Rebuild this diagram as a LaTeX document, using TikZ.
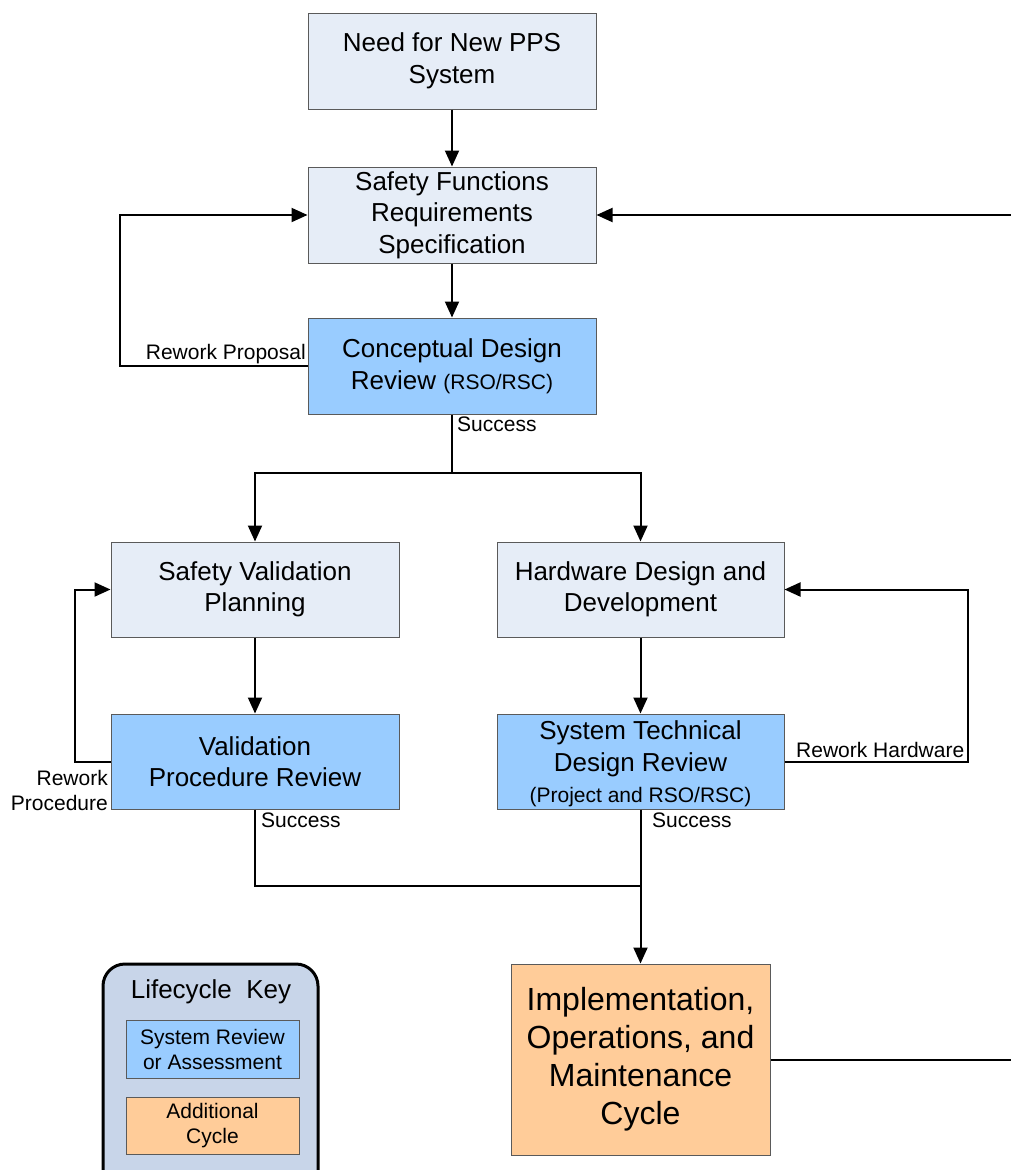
\documentclass[tikz,border=0pt]{standalone}
\usepackage{fontspec}
\setmainfont{Liberation Sans}
\usetikzlibrary{arrows.meta}
\definecolor{lightbox}{RGB}{230,237,247}
\definecolor{reviewbox}{RGB}{153,204,255}
\definecolor{cyclebox}{RGB}{255,204,153}
\definecolor{keyfill}{RGB}{200,213,233}
\definecolor{boxline}{RGB}{90,90,90}
\tikzset{
  base/.style={draw=boxline, line width=1pt, align=center, inner sep=0pt, text=black,
    font=\fontsize{26}{31.5}\selectfont},
  plainbox/.style={base, fill=lightbox},
  revbox/.style={base, fill=reviewbox},
  cycbox/.style={base, fill=cyclebox, font=\fontsize{32}{38}\selectfont},
  lbl/.style={font=\fontsize{21}{25}\selectfont, inner sep=0pt, align=right},
  conn/.style={line width=2pt, draw=black},
  arr/.style={conn, -{Triangle[length=16pt,width=14pt]}},
}
\begin{document}
\begin{tikzpicture}[x=1pt,y=-1pt]
\clip (0,0) rectangle (1011,1170);
\fill[white] (0,0) rectangle (1011,1170);

% main boxes
\node[plainbox, minimum width=288, minimum height=96] (need) at (452,61) {Need for New PPS\\System};
\node[plainbox, minimum width=288, minimum height=96] (sfrs) at (452,215) {Safety Functions\\Requirements\\Specification};
\node[revbox, minimum width=288, minimum height=96] (cdr) at (452,366) {Conceptual Design\\Review {\fontsize{21}{25}\selectfont (RSO/RSC)}};
\node[plainbox, minimum width=288, minimum height=95] (svp) at (255,589.5) {Safety Validation\\Planning};
\node[plainbox, minimum width=287, minimum height=95] (hdd) at (640.5,589.5) {Hardware Design and\\Development};
\node[revbox, minimum width=288, minimum height=95] (vpr) at (255,761.5) {Validation\\Procedure Review};
\node[revbox, minimum width=287, minimum height=95] (stdr) at (640.5,761.5) {\rule{0pt}{24pt}System Technical\\Design Review\\{\fontsize{21}{25}\selectfont (Project and RSO/RSC)}};
\node[cycbox, minimum width=259, minimum height=191] (imp) at (640.5,1059.5) {Implementation,\\Operations, and\\Maintenance\\Cycle};

% key
\draw[line width=3pt, fill=keyfill, rounded corners=22pt] (103,964) rectangle (318,1195);
\node[font=\fontsize{26}{31.5}\selectfont, inner sep=0pt] (keytitle) at (211,992) {Lifecycle~ Key};
\node[base, fill=reviewbox, minimum width=173, minimum height=58, font=\fontsize{21}{25}\selectfont] (keyrev) at (212.5,1049) {System Review\\or Assessment};
\node[base, fill=cyclebox, minimum width=173, minimum height=57, font=\fontsize{21}{25}\selectfont] (keycyc) at (212.5,1125.5) {Additional\\Cycle};

% coordinates
\coordinate (split) at (452,473);
\coordinate (merge) at (640.5,886);
\coordinate (rin) at (1011,215);
\coordinate (rout) at (1011,1059.5);

% connectors
\draw[arr] (need.south) -- (sfrs.north);
\draw[arr] (sfrs.south) -- (cdr.north);
\draw[conn] (cdr.south) -- (split);
\draw[arr] (split) -| (svp.north);
\draw[arr] (split) -| (hdd.north);
\draw[arr] (cdr.west) -- ++(-188,0) |- (sfrs.west);
\draw[arr] (svp.south) -- (vpr.north);
\draw[arr] (hdd.south) -- (stdr.north);
\draw[arr] (vpr.west) -- ++(-36,0) |- (svp.west);
\draw[arr] (stdr.east) -- ++(183,0) |- (hdd.east);
\draw[conn] (vpr.south) |- (merge);
\draw[arr] (stdr.south) -- (imp.north);
\draw[conn] (imp.east) -- (rout);
\draw[arr] (rin) -- (sfrs.east);

% labels
\node[lbl, anchor=east] (lrp) at (306,354) {Rework Proposal};
\node[lbl, anchor=west] (ls1) at (457,424) {Success};
\node[lbl, anchor=east] (lrpr) at (108,790) {Rework\\Procedure};
\node[lbl, anchor=west] (ls2) at (261,820) {Success};
\node[lbl, anchor=west] (ls3) at (652,820) {Success};
\node[lbl, anchor=west] (lrh) at (796,750) {Rework Hardware};
\end{tikzpicture}
\end{document}
